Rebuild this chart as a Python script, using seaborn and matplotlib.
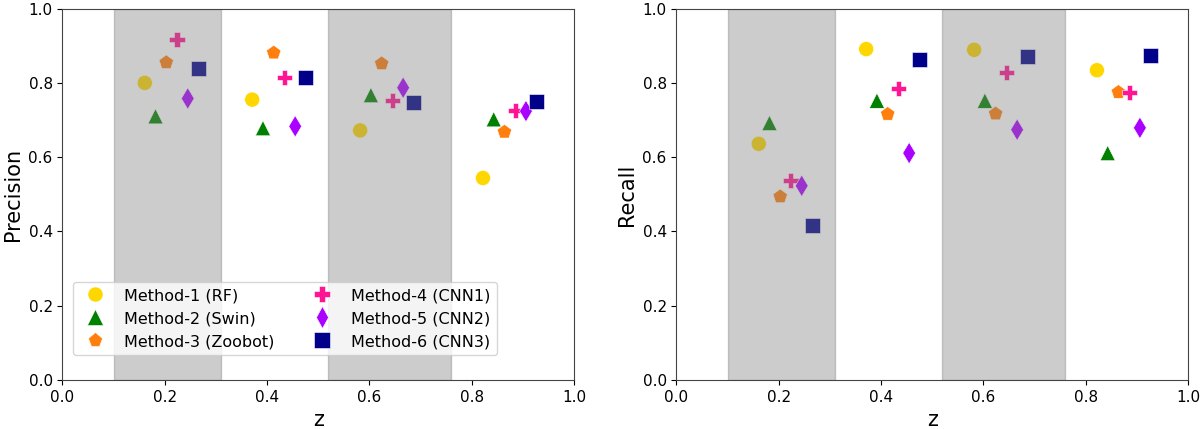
import seaborn as sns
import matplotlib.pyplot as plt
import pandas as pd

methods = ["Method-1 (RF)", "Method-2 (Swin)", "Method-3 (Zoobot)",
           "Method-4 (CNN1)", "Method-5 (CNN2)", "Method-6 (CNN3)"]
colors = ["#ffd700", "#008000", "#ff7f0e", "#ff1493", "#aa00ff", "#00008b"]
markers = ["o", "^", "p", "P", "d", "s"]

# redshift bins (shaded ones) and where each bin's points start
shaded_bins = [(0.1, 0.31), (0.52, 0.76)]
z_start = [0.161, 0.371, 0.582, 0.822]
z_step = 0.021

# one list per method, one value per redshift bin
precision = {
    "Method-1 (RF)":     [0.800, 0.755, 0.672, 0.544],
    "Method-2 (Swin)":   [0.710, 0.678, 0.767, 0.702],
    "Method-3 (Zoobot)": [0.855, 0.881, 0.852, 0.668],
    "Method-4 (CNN1)":   [0.917, 0.814, 0.753, 0.726],
    "Method-5 (CNN2)":   [0.758, 0.683, 0.787, 0.724],
    "Method-6 (CNN3)":   [0.839, 0.815, 0.748, 0.750],
}
recall = {
    "Method-1 (RF)":     [0.636, 0.891, 0.889, 0.834],
    "Method-2 (Swin)":   [0.692, 0.752, 0.752, 0.611],
    "Method-3 (Zoobot)": [0.494, 0.716, 0.717, 0.775],
    "Method-4 (CNN1)":   [0.537, 0.785, 0.829, 0.775],
    "Method-5 (CNN2)":   [0.523, 0.611, 0.674, 0.679],
    "Method-6 (CNN3)":   [0.415, 0.863, 0.870, 0.873],
}

rows = []
for i, m in enumerate(methods):
    for b, z0 in enumerate(z_start):
        rows.append({"method": m, "z": z0 + i * z_step,
                     "Precision": precision[m][b], "Recall": recall[m][b]})
df = pd.DataFrame(rows)

plt.rcParams.update({"font.size": 11})
fig, axes = plt.subplots(1, 2, figsize=(12, 4.29), dpi=100)
fig.subplots_adjust(left=0.052, right=0.99, bottom=0.114, top=0.98, wspace=0.2)

for ax, metric in zip(axes, ["Precision", "Recall"]):
    sns.scatterplot(data=df, x="z", y=metric, hue="method", style="method",
                    palette=colors, markers=markers, s=118, linewidth=0.4,
                    edgecolor="white", ax=ax, legend=(metric == "Precision"))
    for lo, hi in shaded_bins:
        ax.axvspan(lo, hi, color="grey", alpha=0.4)
    ax.set_xlim(0, 1)
    ax.set_ylim(0, 1)
    ax.set_xlabel("z", fontsize=15)
    ax.set_ylabel(metric, fontsize=15)
    ax.tick_params(labelsize=11)
    for sp in ax.spines.values():
        sp.set_color("#444444")

axes[0].legend(loc="lower left", ncol=2, fontsize=11.5, bbox_to_anchor=(0.005, 0.045),
               markerscale=1.0)

plt.savefig("out.png", dpi=100)
